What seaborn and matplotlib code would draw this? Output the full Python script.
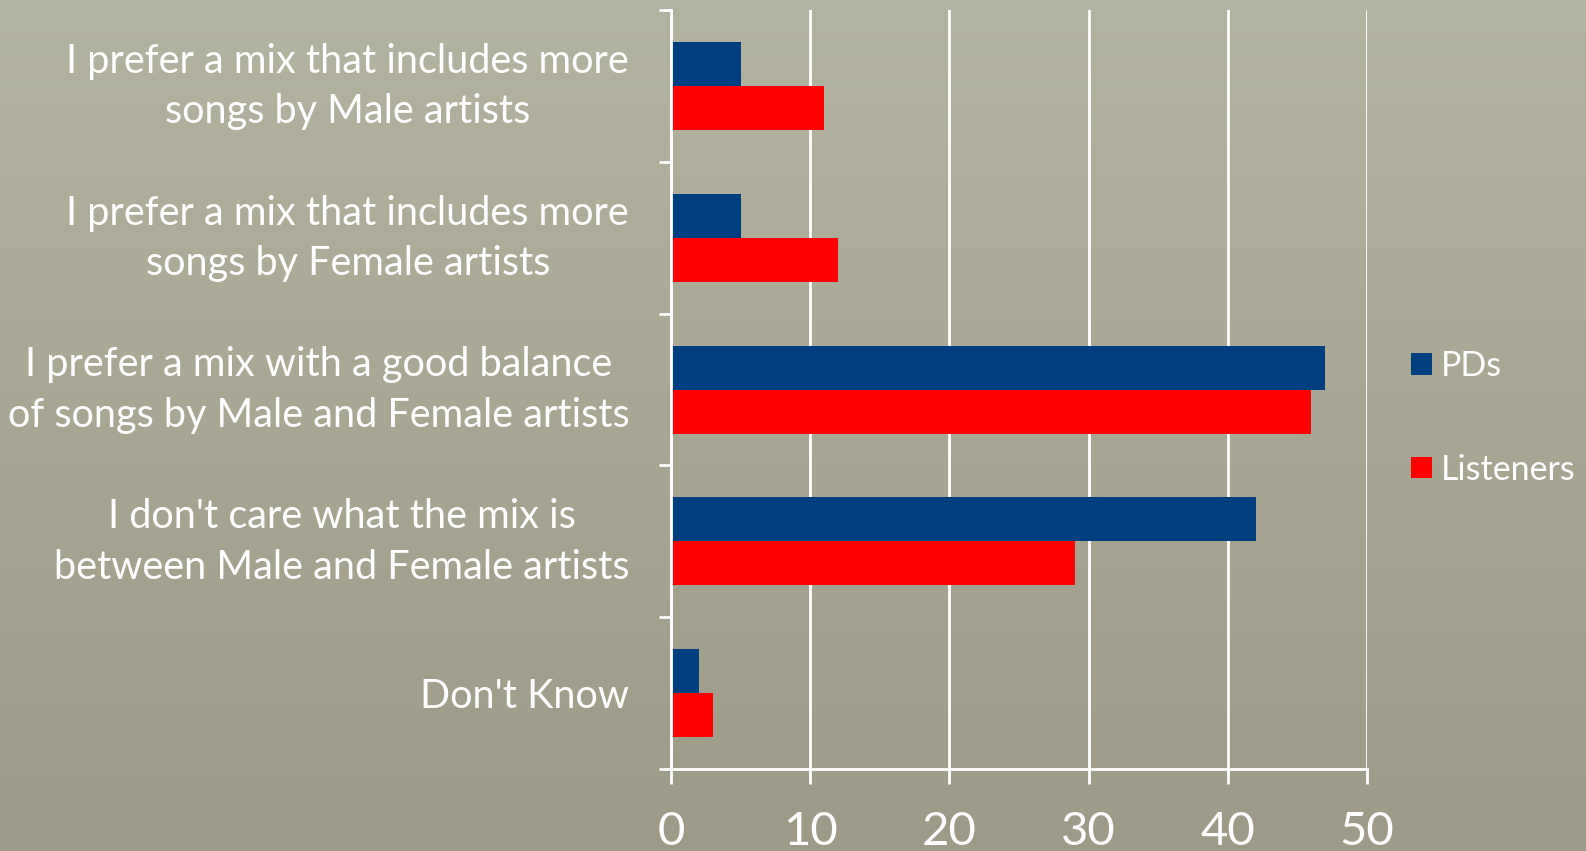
import numpy as np
import pandas as pd
import matplotlib
matplotlib.use("Agg")
import matplotlib.pyplot as plt
import matplotlib.transforms as mtransforms
import seaborn as sns
from matplotlib.ticker import FixedLocator
from matplotlib.colors import LinearSegmentedColormap

# Survey answers and counts per group
categories = [
    "I prefer a mix that includes more\nsongs by Male artists",
    "I prefer a mix that includes more\nsongs by Female artists",
    "I prefer a mix with a good balance\nof songs by Male and Female artists",
    "I don't care what the mix is\nbetween Male and Female artists",
    "Don't Know",
]
pds = [5, 5, 47, 42, 2]
listeners = [11, 12, 46, 29, 3]
series_names = ["PDs", "Listeners"]
x_ticks = [0, 10, 20, 30, 40, 50]

df = pd.DataFrame({
    "answer": categories * 2,
    "value": pds + listeners,
    "group": [series_names[0]] * len(categories) + [series_names[1]] * len(categories),
})

sns.set_theme(style="white")
plt.rcParams["font.family"] = ["Lato", "DejaVu Sans"]

bg = "#a9a894"
fig = plt.figure(figsize=(15.86, 8.51), dpi=100)
fig.patch.set_facecolor(bg)

# soft top-to-bottom shading of the backdrop
bg_ax = fig.add_axes([0, 0, 1, 1], zorder=-10)
shade = np.linspace(0, 1, 256)[:, None] * np.ones((1, 4))
cmap = LinearSegmentedColormap.from_list("bg", ["#b3b3a1", "#a8a793", "#9d9b87"])
bg_ax.imshow(shade, aspect="auto", cmap=cmap, extent=[0, 1, 0, 1])
bg_ax.axis("off")

ax = fig.add_axes([0.423, 0.0964, 0.439, 0.8916])
ax.set_facecolor("none")

sns.barplot(
    data=df, y="answer", x="value", hue="group", orient="h",
    palette={"PDs": "#003f7f", "Listeners": "#ff0000"},
    width=0.58, ax=ax, order=categories, hue_order=series_names,
    saturation=1, linewidth=0,
)

ax.set_xlim(0, 50)
ax.set_ylim(len(categories) - 0.5, -0.5)
ax.set_xlabel("")
ax.set_ylabel("")

ax.xaxis.set_major_locator(FixedLocator(x_ticks))
ax.set_xticklabels([str(t) for t in x_ticks])
ax.grid(axis="x", color="white", linewidth=2)
ax.set_axisbelow(True)

for side in ["top", "right"]:
    ax.spines[side].set_visible(False)
for side in ["left", "bottom"]:
    ax.spines[side].set_color("white")
    ax.spines[side].set_linewidth(2)

ax.tick_params(axis="x", colors="white", labelsize=34, length=11, width=2,
               direction="out", pad=19, bottom=True)
ax.tick_params(axis="y", which="major", length=0, labelsize=28.5,
               labelcolor="white", pad=30)
ax.yaxis.set_minor_locator(FixedLocator(np.arange(-0.5, len(categories), 1.0)))
ax.tick_params(axis="y", which="minor", length=9, width=2, color="white",
               direction="out", left=True)

# two-line answers sit slightly above the middle of their band
lift = mtransforms.ScaledTranslation(0, 7 / 72, fig.dpi_scale_trans)
for lbl in ax.get_yticklabels():
    lbl.set_multialignment("center")
    lbl.set_linespacing(1.45)
    if "\n" in lbl.get_text():
        lbl.set_transform(lbl.get_transform() + lift)

handles, labels = ax.get_legend_handles_labels()
ax.legend_.remove()
leg = fig.legend(
    handles, labels, loc="center left", bbox_to_anchor=(0.8705, 0.509),
    frameon=False, fontsize=24.5, labelcolor="white",
    handlelength=0.6, handleheight=0.6, handletextpad=0.28, labelspacing=2.1,
)

fig.savefig("out.png", dpi=100, facecolor=fig.get_facecolor())
